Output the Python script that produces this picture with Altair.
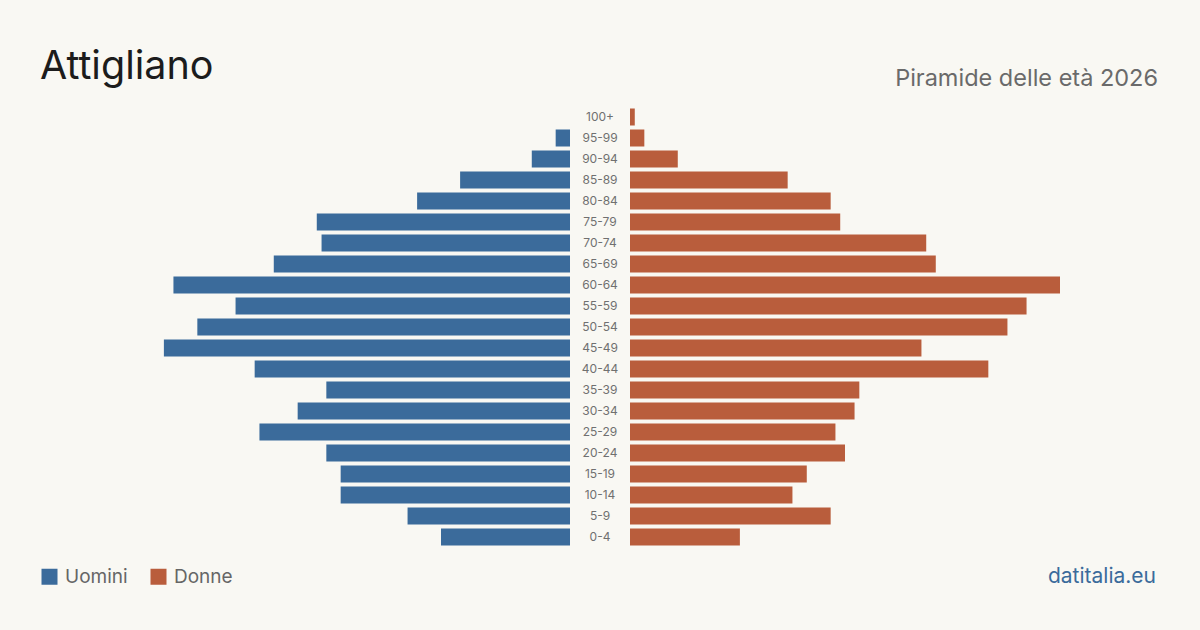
import altair as alt
import pandas as pd

# Age classes, top to bottom
ages = ["100+", "95-99", "90-94", "85-89", "80-84", "75-79", "70-74", "65-69",
        "60-64", "55-59", "50-54", "45-49", "40-44", "35-39", "30-34", "25-29",
        "20-24", "15-19", "10-14", "5-9", "0-4"]
men = [0, 3, 8, 23, 32, 53, 52, 62, 83, 70, 78, 85, 66, 51, 57, 65, 51, 48, 48, 34, 27]
women = [1, 3, 10, 33, 42, 44, 62, 64, 90, 83, 79, 61, 75, 48, 47, 43, 45, 37, 34, 42, 23]

BLUE = "#3b6b9b"
ORANGE = "#b95d3c"
BG = "#f9f8f3"
FONT = "Inter"

df = pd.DataFrame({"age": ages, "Uomini": men, "Donne": women})
long = df.melt(id_vars="age", var_name="sex", value_name="pop")

y_enc = alt.Y("age:N", sort=ages, axis=None,
              scale=alt.Scale(domain=ages, range=[106.5, 547.5],
                              paddingInner=0.19, paddingOuter=0.095))
color_enc = alt.Color(
    "sex:N",
    scale=alt.Scale(domain=["Uomini", "Donne"], range=[BLUE, ORANGE]),
    legend=alt.Legend(orient="none", legendX=40, legendY=567, direction="horizontal",
                      title=None, symbolType="square", symbolSize=256,
                      symbolStrokeWidth=0, labelFontSize=19, labelFont=FONT,
                      labelColor="#666666", labelOffset=6, columnPadding=21),
)

base = alt.Chart(long)

men_bars = base.transform_filter(alt.datum.sex == "Uomini").mark_bar().encode(
    x=alt.X("pop:Q", axis=None, scale=alt.Scale(domain=[0, 90], range=[570, 140])),
    y=y_enc,
    color=color_enc,
)

women_bars = base.transform_filter(alt.datum.sex == "Donne").mark_bar().encode(
    x=alt.X("pop:Q", axis=None, scale=alt.Scale(domain=[0, 90], range=[630, 1060])),
    y=y_enc,
    color=color_enc,
)

age_labels = alt.Chart(df).mark_text(
    font=FONT, fontSize=12, color="#707070", align="center", baseline="middle"
).encode(x=alt.value(600), y=y_enc, text="age:N")

title = alt.Chart(pd.DataFrame({"t": ["Attigliano"]})).mark_text(
    font=FONT, fontSize=39.5, color="#1c1c1c", align="left", baseline="alphabetic"
).encode(x=alt.value(40), y=alt.value(79), text="t:N")

subtitle = alt.Chart(pd.DataFrame({"t": ["Piramide delle età 2026"]})).mark_text(
    font=FONT, fontSize=23.5, color="#6a6a6a", align="right", baseline="alphabetic"
).encode(x=alt.value(1158), y=alt.value(85.5), text="t:N")

source = alt.Chart(pd.DataFrame({"t": ["datitalia.eu"]})).mark_text(
    font=FONT, fontSize=21, color=BLUE, align="right", baseline="alphabetic"
).encode(x=alt.value(1156), y=alt.value(583), text="t:N")

chart = (
    alt.layer(men_bars, women_bars, age_labels, title, subtitle, source)
    .resolve_scale(x="independent")
    .properties(width=1200, height=630, background=BG,
                autosize=alt.AutoSizeParams(type="none"), padding=0)
    .configure_view(stroke=None)
)

chart.save("out.html", embed_options={"renderer": "svg", "actions": False})
